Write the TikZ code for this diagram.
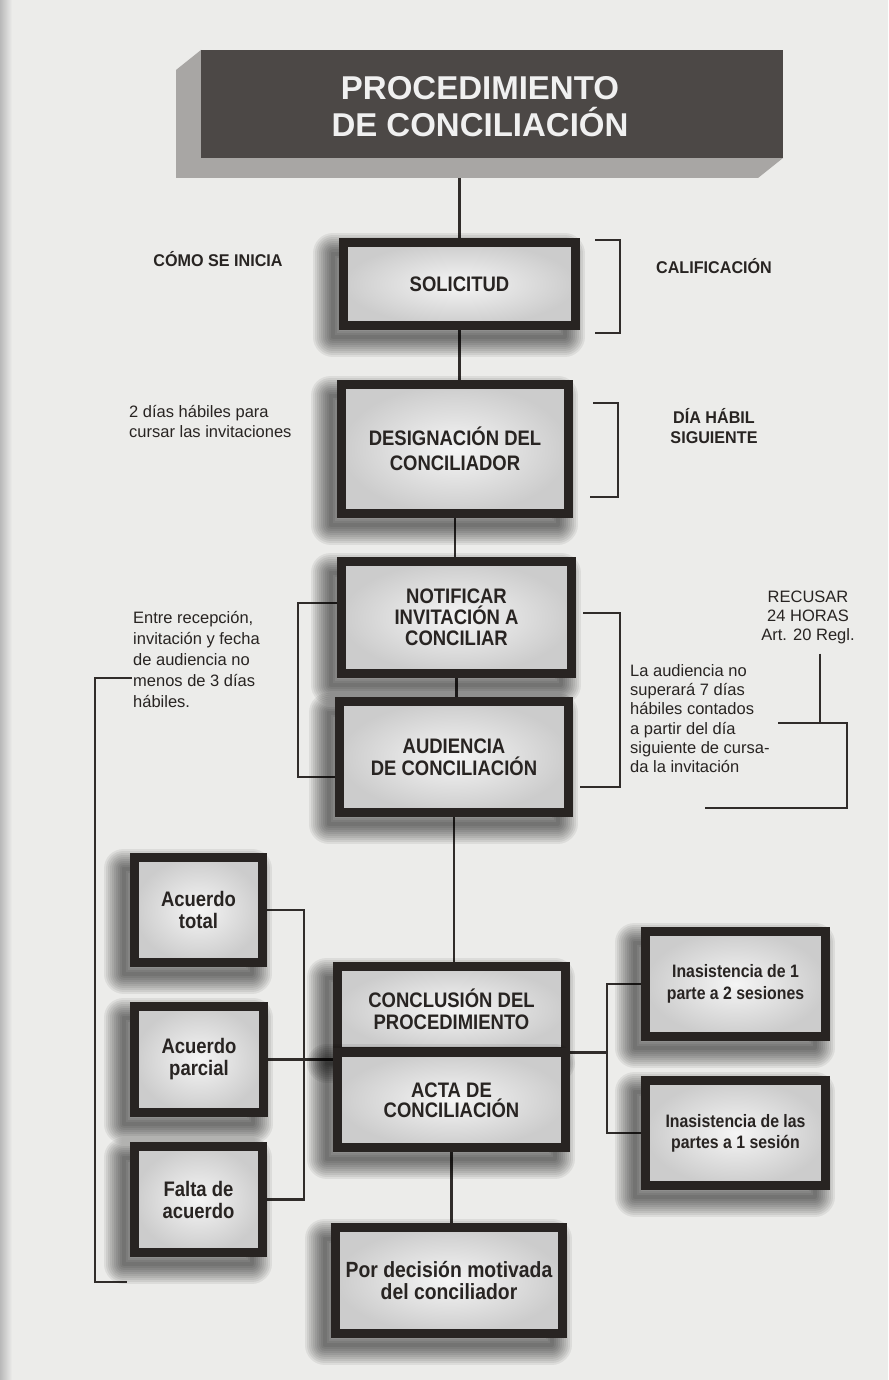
\documentclass[tikz,border=0pt]{standalone}
\usepackage{fontspec}
\setmainfont{Liberation Sans}
\newfontfamily\nbfont[FakeStretch=0.88]{Liberation Sans}
\newfontfamily\lbfont[FakeStretch=0.95]{Liberation Sans}
\usetikzlibrary{calc}
\definecolor{pagebg}{RGB}{236,236,234}
\definecolor{frameclr}{RGB}{40,36,34}
\definecolor{lineclr}{RGB}{48,44,42}
\definecolor{inkclr}{RGB}{40,36,34}
\definecolor{titlebg}{RGB}{76,72,70}
\definecolor{bevelclr}{RGB}{168,166,164}
\pgfdeclarelayer{back}
\pgfdeclarelayer{lines}
\pgfsetlayers{back,lines,main}
\tikzset{
  sh/.style={draw=black, line join=round, line width=#1, opacity=.065, transform canvas={shift={(-11pt,-11pt)}}},
  shadowed/.style={
    preaction={sh=4pt}, preaction={sh=8pt}, preaction={sh=12pt}, preaction={sh=16pt},
    preaction={sh=20pt}, preaction={sh=24pt}, preaction={sh=28pt}, preaction={sh=32pt},
    preaction={sh=36pt}, preaction={sh=40pt}},
  cbox/.style={shadowed, draw=frameclr, line width=9pt, inner color=white!96!black,
    outer color=white!80!black, inner sep=2pt, outer sep=0pt, align=center, text=inkclr,
    font=\nbfont\bfseries\fontsize{21}{22}\selectfont},
  conn/.style={draw=lineclr, line width=2.8pt},
  brk/.style={draw=lineclr, line width=2.8pt},
  lbl/.style={text=inkclr, inner sep=0pt, align=center, font=\lbfont\bfseries\fontsize{17}{20}\selectfont},
  note/.style={text=inkclr, inner sep=0pt, align=left, font=\fontsize{16.5}{20}\selectfont},
  titleface/.style={fill=titlebg, draw=none, inner sep=0pt, outer sep=0pt},
  titletext/.style={text=white!94!black, inner sep=0pt, align=center, font=\bfseries\fontsize{33}{37}\selectfont}
}
\begin{document}
\begin{tikzpicture}[x=1pt,y=-1pt]
\useasboundingbox (0,0) rectangle (888,1380);
\begin{pgfonlayer}{back}
\fill[pagebg] (0,0) rectangle (888,1380);
\shade[left color=gray!55, right color=pagebg] (0,0) rectangle (12,1380);
\end{pgfonlayer}

% title
\node[titleface, minimum width=582pt, minimum height=108pt] (title) at (492,104) {};
\begin{pgfonlayer}{lines}
\fill[bevelclr] (title.north west) -- ++(-25,20) |- ($(title.south east)+(-25,20)$) -- (title.south east) -- cycle;
\end{pgfonlayer}
\node[titletext] (ttl) at (480,107) {PROCEDIMIENTO\\DE CONCILIACIÓN};
\coordinate (tb) at (461,178);

% central column
\node[cbox, minimum width=232pt, minimum height=83pt] (sol) at (459.5,284) {SOLICITUD};
\node[cbox, minimum width=227pt, minimum height=129pt, font=\nbfont\bfseries\fontsize{21}{25}\selectfont] (des) at (455,449) {DESIGNACIÓN DEL\\CONCILIADOR};
\node[cbox, minimum width=230pt, minimum height=112pt, font=\nbfont\bfseries\fontsize{21}{21}\selectfont] (not) at (456.5,617.5) {NOTIFICAR\\INVITACIÓN A\\CONCILIAR};
\node[cbox, minimum width=229pt, minimum height=111pt] (aud) at (454,757) {AUDIENCIA\\DE CONCILIACIÓN};
\node[cbox, minimum width=228pt, minimum height=85pt] (con) at (451.5,1009) {CONCLUSIÓN DEL\\PROCEDIMIENTO};
\node[cbox, minimum width=228pt, minimum height=95pt, font=\nbfont\bfseries\fontsize{21}{20}\selectfont] (acta) at (451.5,1100) {ACTA DE\\CONCILIACIÓN};
\node[cbox, minimum width=227pt, minimum height=106pt, font=\nbfont\bfseries\fontsize{22}{22}\selectfont] (por) at (449,1280.5) {Por decisión motivada\\del conciliador};

% left column
\node[cbox, minimum width=128pt, minimum height=105pt] (at) at (198.5,910) {Acuerdo\\total};
\node[cbox, minimum width=129pt, minimum height=106pt] (ap) at (199,1059.5) {Acuerdo\\parcial};
\node[cbox, minimum width=128pt, minimum height=106pt] (fa) at (198.5,1199.5) {Falta de\\acuerdo};

% right column
\node[cbox, minimum width=180pt, minimum height=105pt, font=\nbfont\bfseries\fontsize{18}{22}\selectfont] (in1) at (735.5,984) {Inasistencia de 1\\parte a 2 sesiones};
\node[cbox, minimum width=180pt, minimum height=105pt, font=\nbfont\bfseries\fontsize{18}{21}\selectfont] (in2) at (735.5,1133) {Inasistencia de las\\partes a 1 sesión};

% labels
\node[lbl, anchor=base] (como) at (218,266) {CÓMO SE INICIA};
\node[lbl, anchor=base] (cal) at (714,273) {CALIFICACIÓN};
\node[lbl] (dia) at (714,426) {DÍA HÁBIL\\SIGUIENTE};
\node[note, anchor=north west] (dos) at (129,405) {2 días hábiles para\\cursar las invitaciones};
\node[note, anchor=north west, font=\fontsize{16.5}{21}\selectfont] (entre) at (133,611) {Entre recepción,\\invitación y fecha\\de audiencia no\\menos de 3 días\\hábiles.};
\node[note, anchor=north west, font=\fontsize{16.5}{19.3}\selectfont] (laaud) at (630,664) {La audiencia no\\superará 7 días\\hábiles contados\\a partir del día\\siguiente de cursa-\\da la invitación};
\node[note, align=center, font=\fontsize{16.5}{19}\selectfont] (rec) at (808,617) {RECUSAR\\24 HORAS\\Art. 20 Regl.};

% connectors
\coordinate (lbt) at (132,678);
\coordinate (lbb) at (127,1282);
\coordinate (rj) at (820,723);
\coordinate (rtl) at (778,723);
\coordinate (rtr) at (847,723);
\coordinate (rbr) at (847,808);
\coordinate (rbl) at (705,808);
\begin{pgfonlayer}{lines}
\draw[conn] (sol.north) -- (sol.north |- tb);
\draw[conn] (sol.south) -- (sol.south |- des.north);
\draw[conn] (des.south) -- (des.south |- not.north);
\draw[conn] (not.south) -- (not.south |- aud.north);
\draw[conn] (aud.south) -- (aud.south |- con.north);
\draw[conn] (acta.south) -- (acta.south |- por.north);
\draw[conn] (at.east) -- ++(41.5,0) |- (fa.east);
\draw[conn] (ap.east) -- (ap.east -| con.west);
\draw[conn] (in1.west) -- ++(-38.5,0) |- (in2.west);
\draw[conn] (acta.north east) -- ++(41.5,0);
% brackets
\draw[brk] ([shift={(19.5pt,44pt)}]sol.east) -- ++(25,0) |- ([shift={(19.5pt,-49pt)}]sol.east);
\draw[brk] ([shift={(24.5pt,46pt)}]des.east) -- ++(25,0) |- ([shift={(21.5pt,-48pt)}]des.east);
\draw[brk] ([shift={(11.5pt,4.5pt)}]not.east) -- ++(37,0) |- ([shift={(11.5pt,-30pt)}]aud.east);
\draw[brk] ([yshift=14.5pt]not.west) -- ++(-43.5,0) |- ([yshift=-20pt]aud.west);
\draw[brk, line width=2.4pt] (lbt) -- ++(-37,0) |- (lbb);
\draw[brk, shorten <=10pt] (rec.south -| rj) -- (rj);
\draw[brk] (rtl) -- (rtr) -- (rbr) -- (rbl);
\end{pgfonlayer}
\end{tikzpicture}
\end{document}
